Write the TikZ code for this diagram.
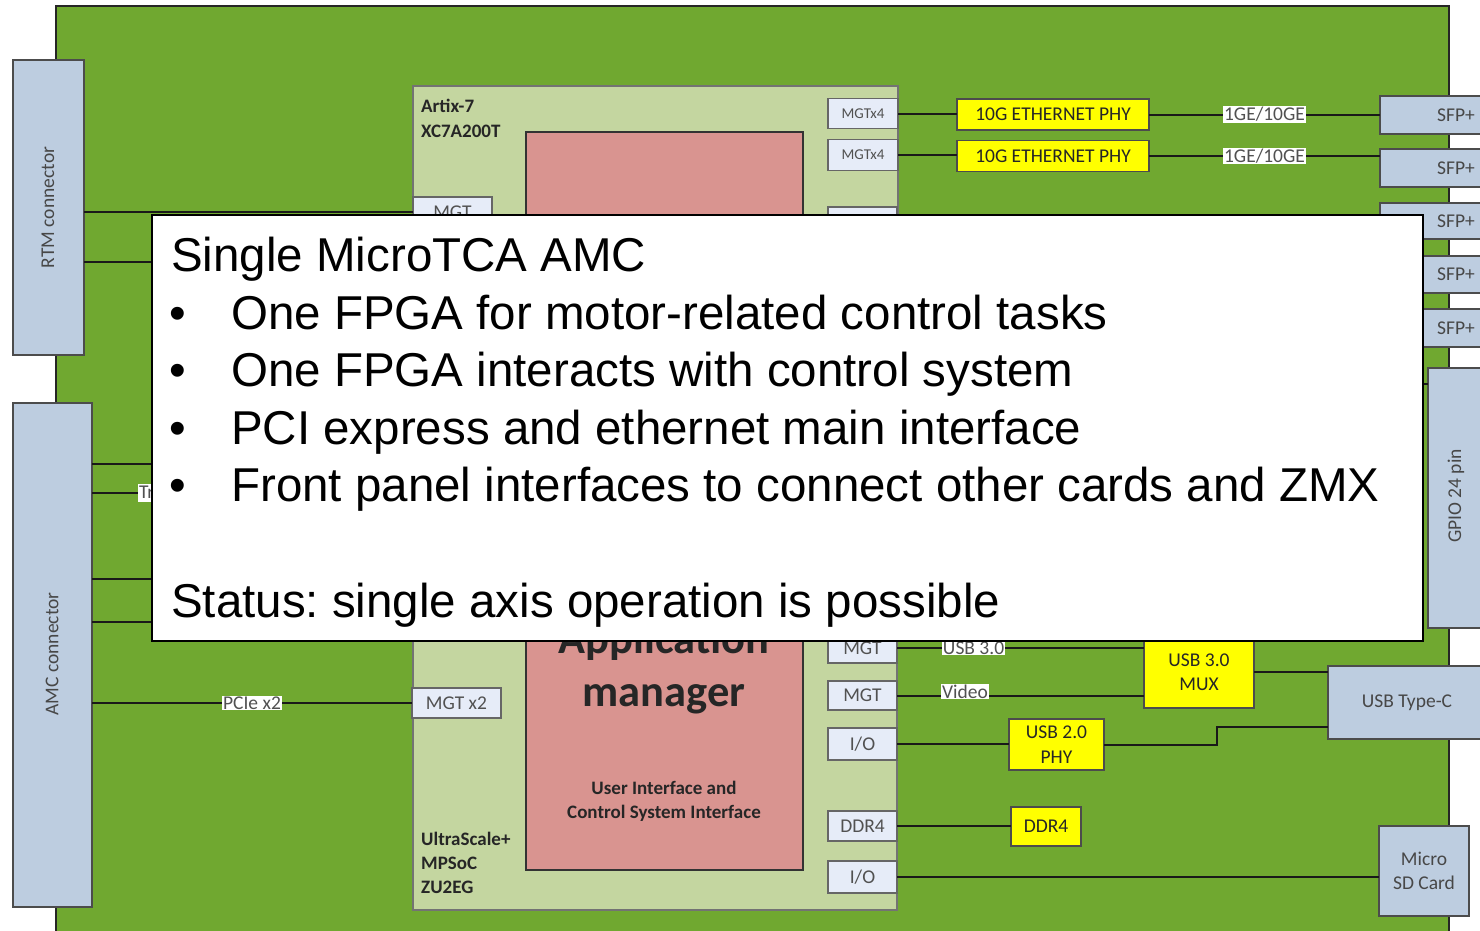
\documentclass[tikz,border=0pt]{standalone}
\usepackage{fontspec}
\setmainfont{Liberation Sans}
\newfontfamily\calfont{Carlito}
\frenchspacing
\definecolor{boardc}{HTML}{70A830}
\definecolor{fpgac}{HTML}{C4D6A0}
\definecolor{pinkc}{HTML}{D99490}
\definecolor{connc}{HTML}{BDCDE0}
\definecolor{portc}{HTML}{E6ECF8}
\definecolor{yelc}{HTML}{FFFF00}
\definecolor{txtc}{HTML}{262626}
\tikzset{
  connbox/.style={draw=black!70, fill=connc, line width=1.3pt, inner sep=0pt, outer sep=0pt},
  fpgabox/.style={draw=black!55, fill=fpgac, line width=1.3pt, inner sep=0pt, outer sep=0pt},
  pinkbox/.style={draw=black!80, fill=pinkc, line width=1.3pt, inner sep=0pt, outer sep=0pt},
  portbox/.style={draw=black!60, fill=portc, line width=1.2pt, inner sep=0pt, outer sep=0pt,
     minimum width=69, minimum height=30, text=txtc!80, font=\calfont\fontsize{19.5}{22}\selectfont},
  yelbox/.style={draw=black!70, fill=yelc, line width=1.3pt, inner sep=0pt, outer sep=0pt,
     text=txtc, align=center, font=\calfont\fontsize{19.5}{24.5}\selectfont},
  wire/.style={line width=2pt, draw=black!90},
  lbl/.style={fill=white, inner sep=1pt, text=txtc!80, font=\calfont\fontsize{19.5}{22}\selectfont},
  plaintxt/.style={inner sep=0pt, text=txtc!85, font=\calfont\fontsize{19.5}{22}\selectfont},
  boldtxt/.style={inner sep=0pt, text=txtc, font=\calfont\bfseries\fontsize{19}{22}\selectfont},
  bigtxt/.style={inner sep=0pt, text=txtc, font=\calfont\bfseries\fontsize{44.5}{52}\selectfont},
  ovtxt/.style={inner sep=0pt, text=black, font=\fontsize{47.5}{52}\selectfont},
}
\begin{document}
\begin{tikzpicture}[x=1pt,y=-1pt]
\useasboundingbox (0,0) rectangle (1480,930);
\clip (0,0) rectangle (1480,930);
\fill[white] (0,0) rectangle (1480,930);
% board
\path[fill=boardc, draw=black!85, line width=1.5pt] (56,6) rectangle (1449,980);

% FPGA boxes
\node[fpgabox, minimum width=485, minimum height=330, anchor=north west] (artix) at (413,86) {};
\node[fpgabox, minimum width=484, minimum height=470, anchor=north west] (zynq) at (413,440) {};
\node[pinkbox, minimum width=277, minimum height=250, anchor=north west] (core1) at (526,132) {};
\node[pinkbox, minimum width=277, minimum height=400, anchor=north west] (core2) at (526,470) {};

\node[boldtxt, anchor=base west] (artixa) at (421,112) {Artix-7};
\node[boldtxt, anchor=base west] (artixb) at (421,137) {XC7A200T};
\node[boldtxt, anchor=base west] (zqa) at (421,845) {UltraScale+};
\node[boldtxt, anchor=base west] (zqb) at (421,869) {MPSoC};
\node[boldtxt, anchor=base west] (zqc) at (421,893) {ZU2EG};

\node[bigtxt, anchor=base] (apptxt) at (664,653) {Application};
\node[bigtxt, anchor=base] (mgrtxt) at (664,706) {manager};
\node[boldtxt, anchor=base] (uitxt) at (664,794) {User Interface and};
\node[boldtxt, anchor=base] (cstxt) at (664,818) {Control System Interface};

% ports
\node[portbox, minimum width=70, font=\calfont\fontsize{15}{17}\selectfont] (mgtx4a) at (863,113.5) {MGTx4};
\node[portbox, minimum width=70, minimum height=31, font=\calfont\fontsize{15}{17}\selectfont] (mgtx4b) at (863,155) {MGTx4};
\node[portbox, minimum width=79] (mgtA) at (452.5,212) {MGT};
\node[portbox] (mgtC) at (862.5,222) {MGT};
\node[portbox, minimum width=89] (mgtx2) at (456.5,703) {MGT x2};
\node[portbox] (mgtD) at (862.5,648) {MGT};
\node[portbox, minimum height=29] (mgtE) at (862.5,695.5) {MGT};
\node[portbox, minimum height=32] (io1) at (862.5,744) {I/O};
\node[portbox] (ddr4a) at (862.5,826) {DDR4};
\node[portbox, minimum height=32] (io2) at (862.5,877) {I/O};

% connectors
\node[connbox, minimum width=71, minimum height=295] (rtm) at (48.5,207.5) {};
\node[plaintxt, rotate=90] (rtmtxt) at (48,207.5) {RTM connector};
\node[connbox, minimum width=79, minimum height=504] (amc) at (52.5,655) {};
\node[plaintxt, rotate=90] (amctxt) at (52,654) {AMC connector};

\node[connbox, minimum width=130, minimum height=38, anchor=north west] (sfp1) at (1380,96) {};
\node[connbox, minimum width=130, minimum height=38, anchor=north west] (sfp2) at (1380,149) {};
\node[connbox, minimum width=130, minimum height=36, anchor=north west] (sfp3) at (1380,203) {};
\node[connbox, minimum width=130, minimum height=37, anchor=north west] (sfp4) at (1380,256) {};
\node[connbox, minimum width=130, minimum height=38, anchor=north west] (sfp5) at (1380,309) {};
\node[plaintxt] (s1) at (1456,115) {SFP+};
\node[plaintxt] (s2) at (1456,168) {SFP+};
\node[plaintxt] (s3) at (1456,221) {SFP+};
\node[plaintxt] (s4) at (1456,274.5) {SFP+};
\node[plaintxt] (s5) at (1456,328) {SFP+};

\node[connbox, minimum width=80, minimum height=260, anchor=north west] (gpio) at (1428,368) {};
\node[plaintxt, rotate=90] (gpiotxt) at (1456,496) {GPIO 24 pin};

\node[connbox, minimum width=180, minimum height=73, anchor=north west] (typec) at (1328,666) {};
\node[plaintxt] (tctxt) at (1407,703) {USB Type-C};
\node[connbox, minimum width=90, minimum height=90, align=center, text=txtc!85,
      font=\calfont\fontsize{19.5}{24.5}\selectfont] (sd) at (1424,871) {Micro\\SD Card};

% yellow chips
\node[yelbox, minimum width=192, minimum height=31] (eth1) at (1053,114.5) {10G ETHERNET PHY};
\node[yelbox, minimum width=192, minimum height=31] (eth2) at (1053,156) {10G ETHERNET PHY};
\node[yelbox, minimum width=110, minimum height=72] (usb3mux) at (1199,672) {USB 3.0\\MUX};
\node[yelbox, minimum width=95, minimum height=51] (usb2phy) at (1056.5,744.5) {USB 2.0\\PHY};
\node[yelbox, minimum width=70, minimum height=39] (ddr4b) at (1046,826.5) {DDR4};

% hidden ends
\coordinate (r2) at (413,262);
\coordinate (a1) at (413,464);
\coordinate (a2) at (413,493);
\coordinate (a3) at (413,579);
\coordinate (a4) at (413,622);
\coordinate (g1) at (1300,384);
\coordinate (bend) at (1217,727);

% wires
\draw[wire] (rtm.east |- mgtA.west) -- (mgtA.west);
\draw[wire] (rtm.east |- r2) -- (r2);
\draw[wire] (amc.east |- a1) -- (a1);
\draw[wire] (amc.east |- a2) -- (a2);
\draw[wire] (amc.east |- a3) -- (a3);
\draw[wire] (amc.east |- a4) -- (a4);
\draw[wire] (amc.east |- mgtx2.west) -- (mgtx2.west) node[lbl, pos=0.5] {PCIe x2};
\draw[wire] (mgtx4a.east) -- (mgtx4a.east -| eth1.west);
\draw[wire] (mgtx4b.east) -- (mgtx4b.east -| eth2.west);
\draw[wire] (eth1.east) -- (eth1.east -| sfp1.west) node[lbl, pos=0.5] {1GE/10GE};
\draw[wire] (eth2.east) -- (eth2.east -| sfp2.west) node[lbl, pos=0.5] {1GE/10GE};
\draw[wire] (mgtD.east) -- (mgtD.east -| usb3mux.west) node[lbl, pos=0.31] {USB 3.0};
\draw[wire] (mgtE.east) -- (mgtE.east -| usb3mux.west) node[lbl, pos=0.275, yshift=4] {Video};
\draw[wire] (usb3mux.east) -- (usb3mux.east -| typec.west);
\draw[wire] (io1.east) -- (io1.east -| usb2phy.west);
\draw[wire] (usb2phy.east) -| (bend) -- (bend -| typec.west);
\draw[wire] (ddr4a.east) -- (ddr4a.east -| ddr4b.west);
\draw[wire] (io2.east) -- (io2.east -| sd.west);
\draw[wire] (g1) -- (g1 -| gpio.west);
\node[lbl, anchor=west] (trig) at (138,493) {Trigger};

% overlay
\node[draw=black, line width=2pt, fill=white, inner sep=0pt, minimum width=1271, minimum height=426, anchor=north west] (overlay) at (151,214) {};
\node[ovtxt, anchor=base west] (t0) at (171,271) {Single MicroTCA AMC};
\node[ovtxt, anchor=base] (b1) at (178,329) {\textbullet};
\node[ovtxt, anchor=base west] (t1) at (231,329) {One FPGA for motor-related control tasks};
\node[ovtxt, anchor=base] (b2) at (178,386.5) {\textbullet};
\node[ovtxt, anchor=base west] (t2) at (231,386.5) {One FPGA interacts with control system};
\node[ovtxt, anchor=base] (b3) at (178,444) {\textbullet};
\node[ovtxt, anchor=base west] (t3) at (231,444) {PCI express and ethernet main interface};
\node[ovtxt, anchor=base] (b4) at (178,501.5) {\textbullet};
\node[ovtxt, anchor=base west] (t4) at (231,501.5) {Front panel interfaces to connect other cards and ZMX};
\node[ovtxt, anchor=base west] (t5) at (171,617) {Status: single axis operation is possible};
\end{tikzpicture}
\end{document}
